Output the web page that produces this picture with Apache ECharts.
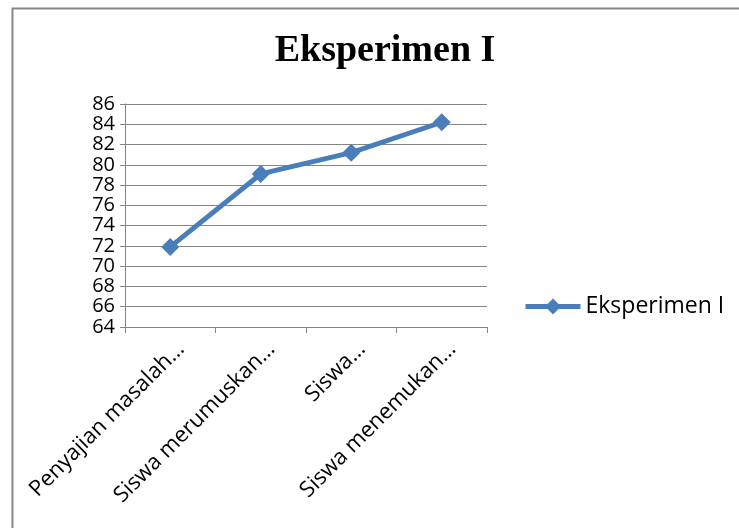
<!DOCTYPE html>
<html><head><meta charset="utf-8">
<script src="https://cdn.jsdelivr.net/npm/echarts@6/dist/echarts.min.js"></script>
<style>html,body{margin:0;padding:0;background:#fff}#c{width:739px;height:528px}</style>
</head><body><div id="c"></div>
<script>
const categories = ["Penyajian masalah dan mengamati", "Siswa merumuskan hipotesis", "Siswa mengumpulkan data", "Siswa menemukan konsep"];
const shortLabels = ["Penyajian masalah…", "Siswa merumuskan…", "Siswa…", "Siswa menemukan…"];
const seriesName = "Eksperimen I";
const values = [71.9, 79.1, 81.2, 84.2];
const yTicks = [64, 66, 68, 70, 72, 74, 76, 78, 80, 82, 84, 86];

const chart = echarts.init(document.getElementById('c'), null, {renderer: 'canvas'});
const font = '"Open Sans", "DejaVu Sans", sans-serif';
chart.setOption({
  animation: false,
  backgroundColor: '#fff',
  graphic: [{
    type: 'rect', left: 10, top: 6, silent: true,
    shape: {width: 760, height: 560},
    style: {fill: 'none', stroke: '#888', lineWidth: 2}
  }],
  title: {
    text: seriesName, left: 380, top: 27, textAlign: 'center',
    textStyle: {fontFamily: '"Liberation Serif", "DejaVu Serif", serif', fontWeight: 'bold', fontSize: 38, color: '#000'}
  },
  legend: {
    data: [seriesName], left: 518, top: 290, itemWidth: 55, itemHeight: 20, itemGap: 4,
    lineStyle: {width: 5},
    textStyle: {fontFamily: font, fontSize: 23, color: '#000'}
  },
  grid: {left: 125, right: 252, top: 104, bottom: 201, containLabel: false},
  xAxis: {
    type: 'category', data: categories, boundaryGap: true,
    axisLine: {lineStyle: {color: '#868686', width: 1}},
    axisTick: {show: true, length: 6, lineStyle: {color: '#868686'}},
    axisLabel: {
      rotate: 45, interval: 0, margin: 8, color: '#000', fontFamily: font, fontSize: 22,
      verticalAlign: 'top', lineHeight: 30,
      formatter: (v, i) => shortLabels[i]
    }
  },
  yAxis: {
    type: 'value', min: yTicks[0], max: yTicks[yTicks.length - 1], interval: 2,
    axisLine: {show: true, lineStyle: {color: '#868686', width: 1}},
    axisTick: {show: true, length: 5, lineStyle: {color: '#868686'}},
    axisLabel: {color: '#000', fontFamily: font, fontSize: 20, margin: 10},
    splitLine: {lineStyle: {color: '#868686', width: 1}}
  },
  series: [{
    name: seriesName, type: 'line', data: values,
    symbol: 'diamond', symbolSize: 18,
    lineStyle: {color: '#4a7ebb', width: 5},
    itemStyle: {color: '#4a7ebb'}
  }]
});
</script></body></html>
